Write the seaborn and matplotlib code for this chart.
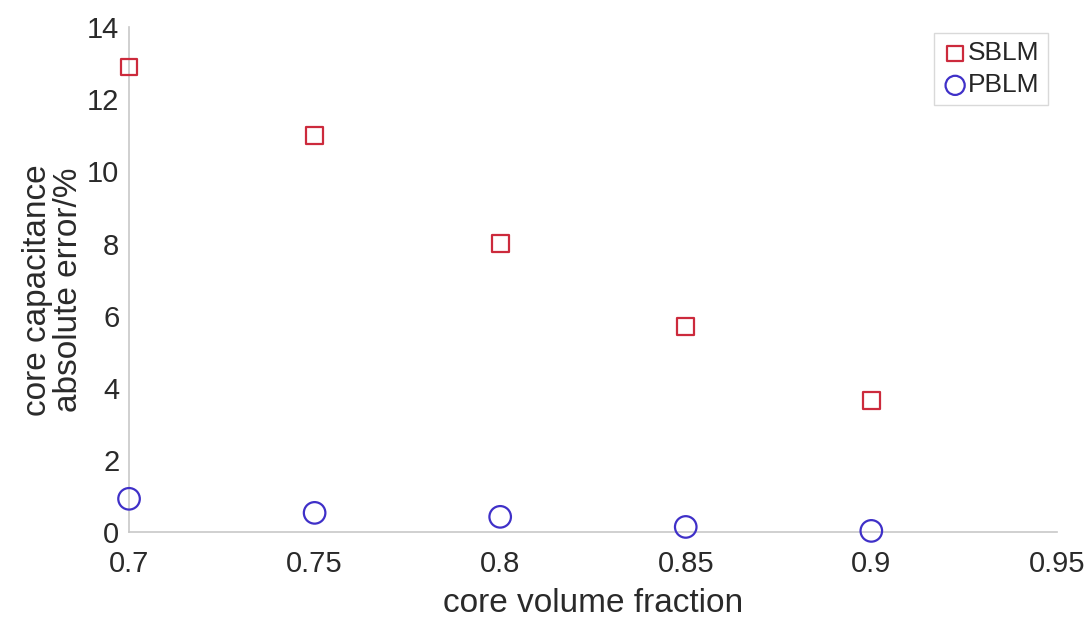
import matplotlib
matplotlib.use("Agg")
import matplotlib.pyplot as plt
import seaborn as sns
import pandas as pd

volume_fraction = [0.70, 0.75, 0.80, 0.85, 0.90]
sblm_error = [12.9, 11.0, 8.0, 5.7, 3.65]
pblm_error = [0.92, 0.53, 0.42, 0.14, 0.03]
x_ticks = [0.7, 0.75, 0.8, 0.85, 0.9, 0.95]
y_ticks = [0, 2, 4, 6, 8, 10, 12, 14]

sns.set_theme(style="white")
plt.rcParams["font.family"] = ["Liberation Sans", "DejaVu Sans"]

df = pd.DataFrame({
    "fraction": volume_fraction * 2,
    "error": sblm_error + pblm_error,
    "model": ["SBLM"] * len(sblm_error) + ["PBLM"] * len(pblm_error),
})

fig = plt.figure(figsize=(10.89, 6.17), dpi=100)
ax = fig.add_axes([0.1185, 0.1378, 0.852, 0.818])

palette = {"SBLM": "#cc2a3c", "PBLM": "#3f30c8"}
markers = {"SBLM": "s", "PBLM": "o"}
sizes_pt = {"SBLM": 12, "PBLM": 15.5}
for name in ["SBLM", "PBLM"]:
    sub = df[df["model"] == name]
    sns.scatterplot(data=sub, x="fraction", y="error", ax=ax,
                    marker=markers[name], s=sizes_pt[name] ** 2,
                    facecolor="none", edgecolor=palette[name], linewidth=1.6,
                    label=name, clip_on=False, zorder=3)

ax.set_xlim(0.7, 0.95)
ax.set_ylim(0, 14)
ax.set_xticks(x_ticks)
ax.set_xticklabels([f"{t:g}" for t in x_ticks])
ax.set_yticks(y_ticks)

for side in ["top", "right"]:
    ax.spines[side].set_visible(False)
for side in ["left", "bottom"]:
    ax.spines[side].set_color("#c8c8c8")
    ax.spines[side].set_linewidth(1.2)
ax.tick_params(axis="both", direction="in", length=5, width=1,
               color="#c8c8c8", labelsize=21, labelcolor="#2a2a2a")
ax.tick_params(axis="x", pad=13)
ax.tick_params(axis="y", pad=7)

ax.set_xlabel("core volume fraction", fontsize=24, color="#2a2a2a", labelpad=7)
ax.set_ylabel("core capacitance\nabsolute error/%", fontsize=24,
              color="#2a2a2a", linespacing=1.0)
ax.yaxis.set_label_coords(-0.049, 0.48)

leg = ax.legend(loc="upper right", bbox_to_anchor=(0.993, 0.993), fontsize=19,
                frameon=True, fancybox=False, handletextpad=0.0,
                borderpad=0.3, labelspacing=0.3, handlelength=1.0,
                borderaxespad=0.1)
leg.get_frame().set_edgecolor("#d0d0d0")
leg.get_frame().set_linewidth(1.0)
for h, sz in zip(leg.legend_handles, [130, 190]):
    h.set_sizes([sz])

fig.savefig("out.png", dpi=100, facecolor="white")
